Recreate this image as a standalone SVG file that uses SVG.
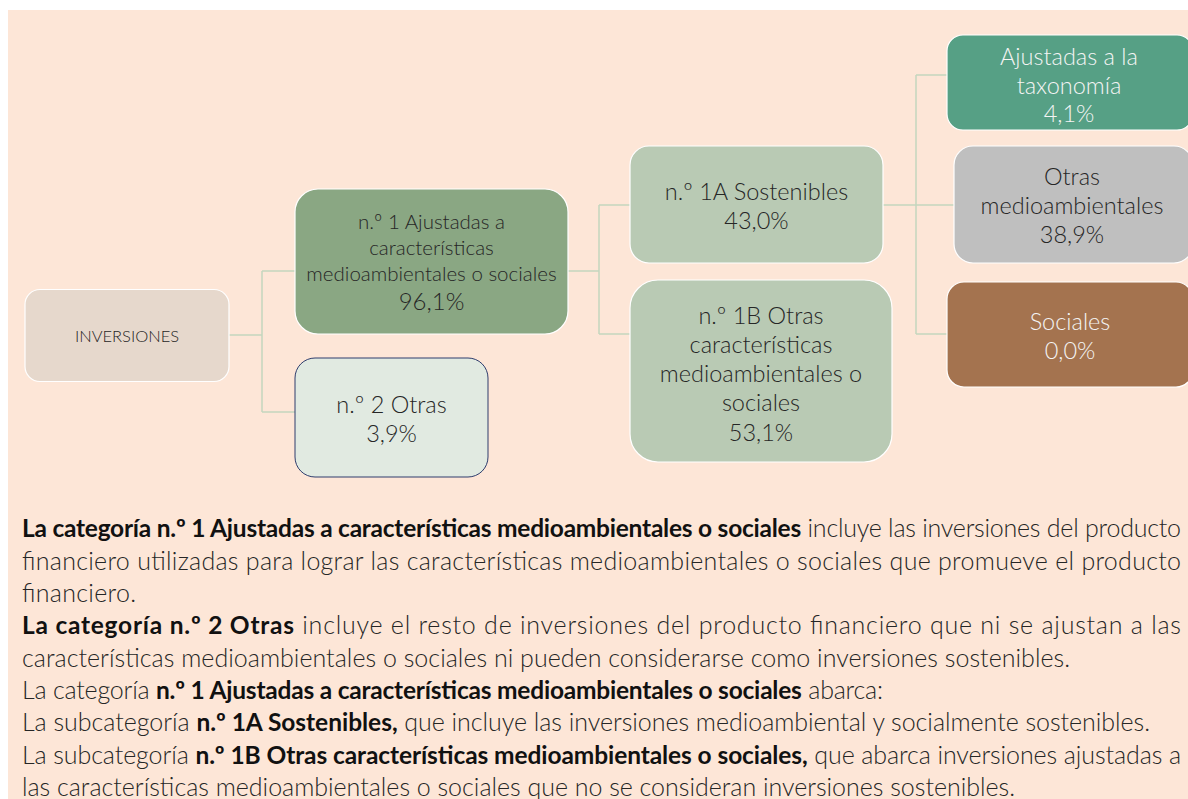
<svg xmlns="http://www.w3.org/2000/svg" width="1188" height="799" viewBox="0 0 1188 799">
<style>
.n{stroke:#ffffff;stroke-width:1.2}
.t{font-family:Lato,"Open Sans","Liberation Sans",sans-serif;font-weight:300;text-anchor:middle;fill:#262626}
.w{fill:#f4f4f4}
.p{font-family:Lato,"Open Sans","Liberation Sans",sans-serif;font-weight:300;font-size:25px;fill:#262626}
.b{font-weight:700;fill:#111;font-size:24.5px}
.c{fill:none;stroke:#c4d6bf;stroke-width:1.5}
</style>
<rect x="0" y="0" width="1188" height="799" fill="#ffffff"/>
<rect x="8" y="10" width="1180" height="789" fill="#fde6d7"/>
<g id="connectors">
<path class="c" d="M229,335H262M262,271V412M262,271H295M262,412H295"/>
<path class="c" d="M568,271H599M599,205V334M599,205H630M599,334H630"/>
<path class="c" d="M883,205H954M916,75V334M916,75H947M916,334H947"/>
</g>
<g id="inversiones">
<rect class="n" x="25" y="289.5" width="204" height="92" rx="15" fill="#e6d8cc"/>
<text class="t" x="127" y="342" font-size="16.5">INVERSIONES</text>
</g>
<g id="n1">
<rect class="n" x="295" y="189" width="273" height="145" rx="23" fill="#8aa783"/>
<text class="t" font-size="20.5"><tspan x="431.5" y="229">n.º 1 Ajustadas a</tspan><tspan x="431.5" y="255">características</tspan><tspan x="431.5" y="281">medioambientales o sociales</tspan><tspan x="431.5" y="310" font-size="24">96,1%</tspan></text>
</g>
<g id="n2">
<rect x="295" y="358" width="193" height="119" rx="20" fill="#e1eae1" stroke="#2f3d6d" stroke-width="1"/>
<text class="t" font-size="23.5"><tspan x="391.5" y="413">n.º 2 Otras</tspan><tspan x="391.5" y="442">3,9%</tspan></text>
</g>
<g id="n1a">
<rect class="n" x="630" y="146" width="253" height="117" rx="19" fill="#b9cab4"/>
<text class="t" font-size="23.5"><tspan x="756.5" y="200">n.º 1A Sostenibles</tspan><tspan x="756.5" y="229">43,0%</tspan></text>
</g>
<g id="n1b">
<rect class="n" x="630" y="280" width="262" height="182" rx="28" fill="#b9cab4"/>
<text class="t" font-size="23.5"><tspan x="761" y="323.5">n.º 1B Otras</tspan><tspan x="761" y="352.5">características</tspan><tspan x="761" y="382">medioambientales o</tspan><tspan x="761" y="411">sociales</tspan><tspan x="761" y="440.5">53,1%</tspan></text>
</g>
<g id="taxonomia">
<rect class="n" x="947" y="35" width="246" height="95" rx="16" fill="#56a085"/>
<text class="t w" font-size="23.5"><tspan x="1069" y="65">Ajustadas a la</tspan><tspan x="1069" y="94">taxonomía</tspan><tspan x="1069" y="122">4,1%</tspan></text>
</g>
<g id="otras-medioambientales">
<rect class="n" x="954" y="146" width="239" height="117" rx="19" fill="#bfbfbf"/>
<text class="t" font-size="23.5"><tspan x="1072" y="185">Otras</tspan><tspan x="1072" y="214">medioambientales</tspan><tspan x="1072" y="243">38,9%</tspan></text>
</g>
<g id="sociales">
<rect class="n" x="947" y="282" width="246" height="105" rx="17" fill="#a4734f"/>
<text class="t w" font-size="23.5"><tspan x="1070" y="330">Sociales</tspan><tspan x="1070" y="359">0,0%</tspan></text>
</g>
<g id="texto">
<text class="p" x="22" y="537" textLength="1159" lengthAdjust="spacing"><tspan class="b">La categoría n.º 1 Ajustadas a características medioambientales o sociales</tspan> incluye las inversiones del producto</text>
<text class="p" x="22" y="569.5" textLength="1159" lengthAdjust="spacing">financiero utilizadas para lograr las características medioambientales o sociales que promueve el producto</text>
<text class="p" x="22" y="602" textLength="114" lengthAdjust="spacing">financiero.</text>
<text class="p" x="22" y="634" textLength="1159" lengthAdjust="spacing"><tspan class="b">La categoría n.º 2 Otras</tspan> incluye el resto de inversiones del producto financiero que ni se ajustan a las</text>
<text class="p" x="22" y="666.5" textLength="1048" lengthAdjust="spacing">características medioambientales o sociales ni pueden considerarse como inversiones sostenibles.</text>
<text class="p" x="22" y="699" textLength="861" lengthAdjust="spacing">La categoría <tspan class="b">n.º 1 Ajustadas a características medioambientales o sociales</tspan> abarca:</text>
<text class="p" x="22" y="731" textLength="1128" lengthAdjust="spacing">La subcategoría <tspan class="b">n.º 1A Sostenibles,</tspan> que incluye las inversiones medioambiental y socialmente sostenibles.</text>
<text class="p" x="22" y="763.5" textLength="1159" lengthAdjust="spacing">La subcategoría <tspan class="b">n.º 1B Otras características medioambientales o sociales,</tspan> que abarca inversiones ajustadas a</text>
<text class="p" x="22" y="796" textLength="993" lengthAdjust="spacing">las características medioambientales o sociales que no se consideran inversiones sostenibles.</text>
</g>
</svg>
